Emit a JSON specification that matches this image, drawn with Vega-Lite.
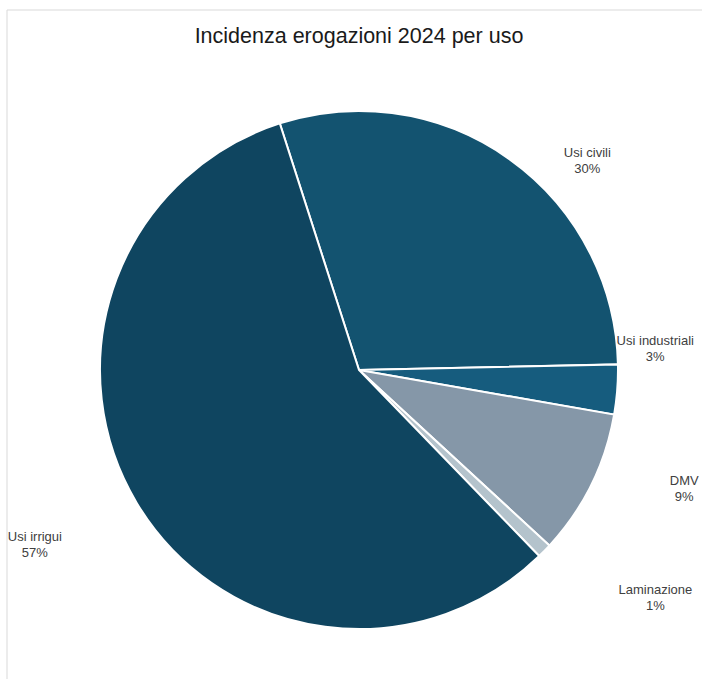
{
  "$schema": "https://vega.github.io/schema/vega-lite/v6.json",
  "autosize": "none",
  "width": 704,
  "height": 720,
  "padding": {"left": 7, "top": 10, "right": 0, "bottom": 0},
  "background": "white",
  "config": {"view": {"stroke": null}},
  "title": {
    "text": "Incidenza erogazioni 2024 per uso",
    "anchor": "middle",
    "orient": "top",
    "offset": -38,
    "font": "Liberation Sans",
    "fontSize": 21.5,
    "fontWeight": "normal",
    "color": "#1a1a1a"
  },
  "data": {
    "values": [
      {"uso": "Usi civili", "quota": 29.6, "ord": 1, "etichetta": "Usi civili\n30%"},
      {"uso": "Usi industriali", "quota": 3.1, "ord": 2, "etichetta": "Usi industriali\n3%"},
      {"uso": "DMV", "quota": 9.1, "ord": 3, "etichetta": "DMV\n9%"},
      {"uso": "Laminazione", "quota": 0.9, "ord": 4, "etichetta": "Laminazione\n1%"},
      {"uso": "Usi irrigui", "quota": 57.3, "ord": 5, "etichetta": "Usi irrigui\n57%"}
    ]
  },
  "layer": [
    {
      "data": {"values": [{}]},
      "mark": {"type": "rect", "fill": null, "stroke": "#D9D9D9", "strokeWidth": 1},
      "encoding": {}
    },
    {
      "mark": {"type": "arc", "outerRadius": 259, "stroke": "white", "strokeWidth": 2},
      "encoding": {
        "theta": {"field": "quota", "type": "quantitative", "stack": true, "scale": {"range": [-0.3107, 5.9725]}},
        "order": {"field": "ord", "type": "quantitative"},
        "color": {
          "field": "uso",
          "type": "nominal",
          "legend": null,
          "scale": {
            "domain": ["Usi civili", "Usi industriali", "DMV", "Laminazione", "Usi irrigui"],
            "range": ["#135370", "#165C7E", "#8597A8", "#B4C3CC", "#0F4560"]
          }
        }
      }
    },
    {
      "mark": {"type": "text", "radius": 259, "dx": 78, "dy": -6, "font": "Liberation Sans", "fontSize": 13, "color": "#404040", "lineBreak": "\n", "lineHeight": 16, "align": "center", "baseline": "middle"},
      "encoding": {
        "theta": {"field": "quota", "type": "quantitative", "stack": true},
        "order": {"field": "ord", "type": "quantitative"},
        "text": {"condition": {"test": "datum.uso === 'Usi civili'", "field": "etichetta"}, "value": ""}
      }
    },
    {
      "mark": {"type": "text", "radius": 259, "dx": 38, "dy": -49, "font": "Liberation Sans", "fontSize": 13, "color": "#404040", "lineBreak": "\n", "lineHeight": 16, "align": "center", "baseline": "middle"},
      "encoding": {
        "theta": {"field": "quota", "type": "quantitative", "stack": true},
        "order": {"field": "ord", "type": "quantitative"},
        "text": {"condition": {"test": "datum.uso === 'Usi industriali'", "field": "etichetta"}, "value": ""}
      }
    },
    {
      "mark": {"type": "text", "radius": 259, "dx": 93, "dy": -4, "font": "Liberation Sans", "fontSize": 13, "color": "#404040", "lineBreak": "\n", "lineHeight": 16, "align": "center", "baseline": "middle"},
      "encoding": {
        "theta": {"field": "quota", "type": "quantitative", "stack": true},
        "order": {"field": "ord", "type": "quantitative"},
        "text": {"condition": {"test": "datum.uso === 'DMV'", "field": "etichetta"}, "value": ""}
      }
    },
    {
      "mark": {"type": "text", "radius": 259, "dx": 111, "dy": 39, "font": "Liberation Sans", "fontSize": 13, "color": "#404040", "lineBreak": "\n", "lineHeight": 16, "align": "center", "baseline": "middle"},
      "encoding": {
        "theta": {"field": "quota", "type": "quantitative", "stack": true},
        "order": {"field": "ord", "type": "quantitative"},
        "text": {"condition": {"test": "datum.uso === 'Laminazione'", "field": "etichetta"}, "value": ""}
      }
    },
    {
      "mark": {"type": "text", "radius": 259, "dx": -102, "dy": 34, "font": "Liberation Sans", "fontSize": 13, "color": "#404040", "lineBreak": "\n", "lineHeight": 16, "align": "center", "baseline": "middle"},
      "encoding": {
        "theta": {"field": "quota", "type": "quantitative", "stack": true},
        "order": {"field": "ord", "type": "quantitative"},
        "text": {"condition": {"test": "datum.uso === 'Usi irrigui'", "field": "etichetta"}, "value": ""}
      }
    }
  ]
}
